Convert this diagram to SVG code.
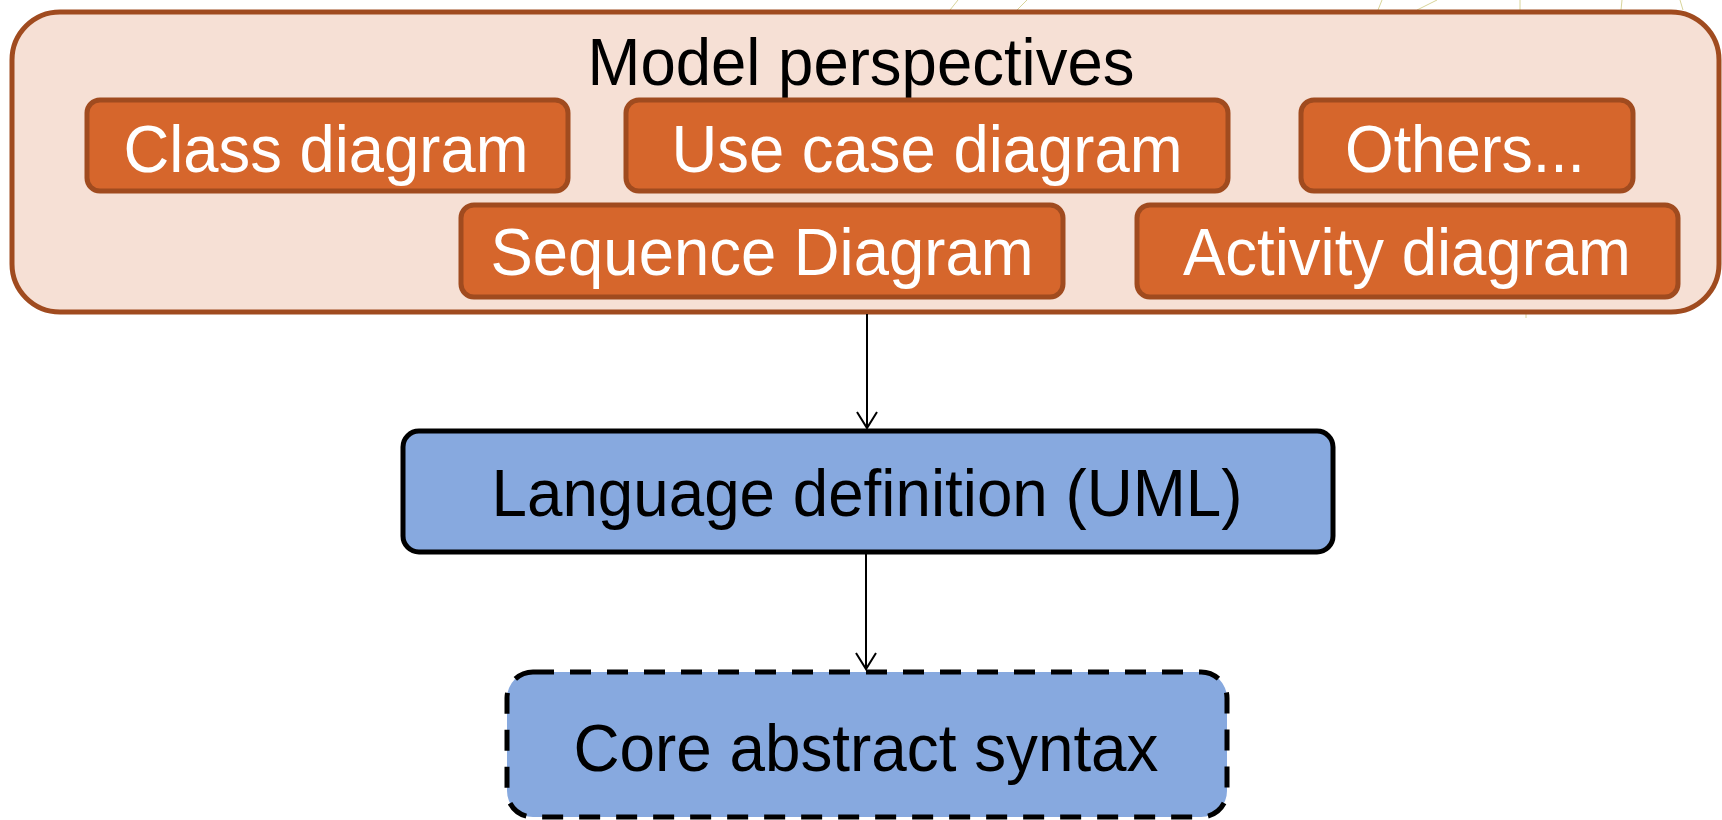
<svg xmlns="http://www.w3.org/2000/svg" width="1722" height="820" viewBox="0 0 1722 820">
  <defs>
    <style>
      .outer { fill: #F6E0D5; stroke: #A04B1F; stroke-width: 5; }
      .view { fill: #D6662C; stroke: #A04B1F; stroke-width: 5; }
      .lang { fill: #87A9DF; stroke: #000000; stroke-width: 5; }
      .core { fill: #87A9DF; stroke: #000000; stroke-width: 5; stroke-dasharray: 21 16; }
      .lbl { font-family: "Liberation Sans", Arial, Helvetica, sans-serif; font-size: 67px; text-anchor: middle; }
      .white { fill: #FFFFFF; }
      .black { fill: #000000; }
      .edge { stroke: #000000; stroke-width: 2; fill: none; }
      .trace { stroke: #D8D49A; stroke-width: 1; fill: none; }
    </style>
    <!-- open V arrowhead, drawn along +x so orient="auto" points it down the line -->
    <marker id="vee" viewBox="0 0 20 24" refX="18" refY="12" markerWidth="20" markerHeight="24" markerUnits="userSpaceOnUse" orient="auto">
      <path d="M2,2 L18,12 L2,22" fill="none" stroke="#000000" stroke-width="2"/>
    </marker>
  </defs>

  <rect width="1722" height="820" fill="#FFFFFF"/>

  <!-- faint background strokes above the perspectives panel -->
  <g id="background-strokes">
    <path class="trace" d="M950,10 L958,0"/>
    <path class="trace" d="M1017,10 L1027,0"/>
    <path class="trace" d="M1378,10 L1382,0"/>
    <path class="trace" d="M1417,10 L1437,0"/>
    <path class="trace" d="M1520,10 L1520,0"/>
    <path class="trace" d="M1621,10 L1622,0"/>
    <path class="trace" d="M1683,10 L1680,0"/>
    <path class="trace" d="M1526,314 L1526,318"/>
  </g>

  <g id="model-perspectives">
    <rect class="outer" x="12" y="12" width="1707" height="300" rx="48" ry="48"/>
    <text class="lbl black" x="861" y="85" textLength="547" lengthAdjust="spacingAndGlyphs">Model perspectives</text>
  </g>

  <g id="class-diagram">
    <rect class="view" x="87" y="100" width="481" height="91" rx="13" ry="13"/>
    <text class="lbl white" x="326" y="172" textLength="405" lengthAdjust="spacingAndGlyphs">Class diagram</text>
  </g>

  <g id="use-case-diagram">
    <rect class="view" x="626" y="100" width="602" height="91" rx="13" ry="13"/>
    <text class="lbl white" x="927" y="172" textLength="511" lengthAdjust="spacingAndGlyphs">Use case diagram</text>
  </g>

  <g id="others">
    <rect class="view" x="1301" y="100" width="332" height="91" rx="13" ry="13"/>
    <text class="lbl white" x="1465" y="172" textLength="240" lengthAdjust="spacingAndGlyphs">Others...</text>
  </g>

  <g id="sequence-diagram">
    <rect class="view" x="461" y="205" width="602" height="92" rx="13" ry="13"/>
    <text class="lbl white" x="762" y="275" textLength="543" lengthAdjust="spacingAndGlyphs">Sequence Diagram</text>
  </g>

  <g id="activity-diagram">
    <rect class="view" x="1137" y="205" width="541" height="92" rx="13" ry="13"/>
    <text class="lbl white" x="1407" y="275" textLength="448" lengthAdjust="spacingAndGlyphs">Activity diagram</text>
  </g>

  <g id="language-definition">
    <rect class="lang" x="403" y="431" width="930" height="121" rx="16" ry="16"/>
    <text class="lbl black" x="867" y="516" textLength="751" lengthAdjust="spacingAndGlyphs">Language definition (UML)</text>
  </g>

  <g id="core-abstract-syntax">
    <rect class="core" x="507" y="672" width="720" height="145" rx="26" ry="26"/>
    <text class="lbl black" x="866" y="771" textLength="585" lengthAdjust="spacingAndGlyphs">Core abstract syntax</text>
  </g>

  <g id="connectors">
    <line class="edge" x1="867" y1="314" x2="867" y2="428" marker-end="url(#vee)"/>
    <line class="edge" x1="866" y1="554" x2="866" y2="669" marker-end="url(#vee)"/>
  </g>
</svg>
